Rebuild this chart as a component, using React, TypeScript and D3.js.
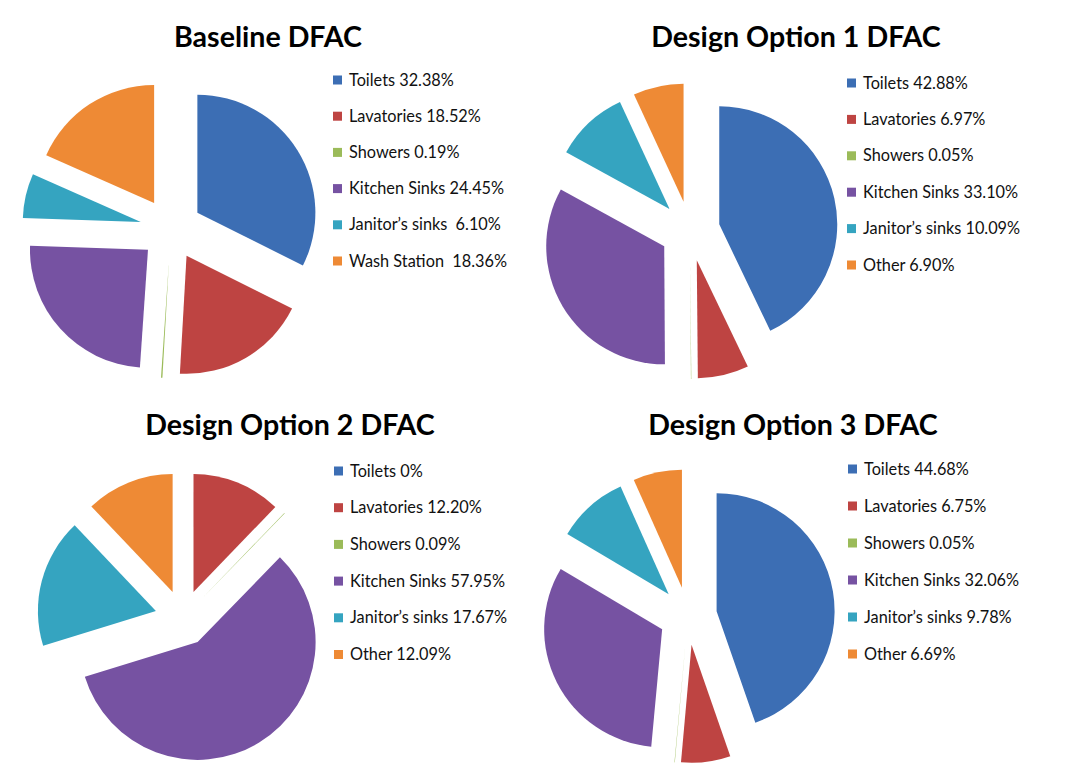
import React from "react";
import * as d3 from "d3";

const categories = ["Toilets", "Lavatories", "Showers", "Kitchen Sinks", "Janitor’s sinks"];
const baselineLastCategory = "Wash Station";
const otherCategory = "Other";

const baselineValues = [32.38, 18.52, 0.19, 24.45, 6.1, 18.36];
const option1Values = [42.88, 6.97, 0.05, 33.1, 10.09, 6.9];
const option2Values = [0, 12.2, 0.09, 57.95, 17.67, 12.09];
const option3Values = [44.68, 6.75, 0.05, 32.06, 9.78, 6.69];

const baselineLabels = ["32.38%", "18.52%", "0.19%", "24.45%", "6.10%", "18.36%"];
const option1Labels = ["42.88%", "6.97%", "0.05%", "33.10%", "10.09%", "6.90%"];
const option2Labels = ["0%", "12.20%", "0.09%", "57.95%", "17.67%", "12.09%"];
const option3Labels = ["44.68%", "6.75%", "0.05%", "32.06%", "9.78%", "6.69%"];

const titles = ["Baseline DFAC", "Design Option 1 DFAC", "Design Option 2 DFAC", "Design Option 3 DFAC"];

const colors = ["#3C6EB4", "#BE4442", "#9BBB59", "#7652A2", "#35A4C0", "#EE8A35"];

interface PanelCfg {
  title: string;
  values: number[];
  labels: string[];
  names: string[];
  seps: string[];
  cx: number;
  cy: number;
  titleX: number;
  titleY: number;
  legX: number;
  legY: number;
  legStep: number;
  explode: number;
}

const R = 118;

const panels: PanelCfg[] = [
  {
    title: titles[0], values: baselineValues, labels: baselineLabels,
    names: [...categories, baselineLastCategory], seps: [" ", " ", " ", " ", "  ", "  "],
    cx: 171, cy: 229, titleX: 268, titleY: 47, legX: 333, legY: 80, legStep: 36.2, explode: 31,
  },
  {
    title: titles[1], values: option1Values, labels: option1Labels,
    names: [...categories, otherCategory], seps: [" ", " ", " ", " ", " ", " "],
    cx: 690, cy: 231, titleX: 796, titleY: 47, legX: 847, legY: 83, legStep: 36.4, explode: 30,
  },
  {
    title: titles[2], values: option2Values, labels: option2Labels,
    names: [...categories, otherCategory], seps: [" ", " ", " ", " ", " ", " "],
    cx: 183, cy: 618, titleX: 290, titleY: 435, legX: 334, legY: 471, legStep: 36.7, explode: 28,
  },
  {
    title: titles[3], values: option3Values, labels: option3Labels,
    names: [...categories, otherCategory], seps: [" ", " ", " ", " ", " ", " "],
    cx: 688, cy: 616, titleX: 793, titleY: 435, legX: 848, legY: 469, legStep: 37, explode: 29,
  },
];

function Panel({ p }: { p: PanelCfg }) {
  const pie = d3.pie<number>().sort(null).value((d) => d);
  const arcs = pie(p.values);
  const arc = d3.arc<d3.PieArcDatum<number>>().innerRadius(0).outerRadius(R);
  return (
    <g>
      <text
        x={p.titleX}
        y={p.titleY}
        textAnchor="middle"
        fontFamily="Lato, 'Open Sans', sans-serif"
        fontWeight={700}
        fontSize={28.6}
        fill="#000"
      >
        {p.title}
      </text>
      <g transform={`translate(${p.cx},${p.cy})`}>
        {arcs.map((a, i) => {
          if (a.endAngle - a.startAngle <= 0) return null;
          const mid = (a.startAngle + a.endAngle) / 2;
          const dx = Math.sin(mid) * p.explode;
          const dy = -Math.cos(mid) * p.explode;
          return (
            <path key={i} d={arc(a) || ""} fill={colors[i]} transform={`translate(${dx},${dy})`} />
          );
        })}
      </g>
      {p.names.map((n, i) => {
        const y = p.legY + i * p.legStep;
        return (
          <g key={i}>
            <rect x={p.legX} y={y - 4.5} width={9} height={9} fill={colors[i]} />
            <text
              x={p.legX + 16}
              y={y + 5.5}
              fontFamily="Lato, 'Open Sans', sans-serif"
              fontSize={16.3}
              fill="#111"
              style={{ whiteSpace: "pre" }}
            >
              {n + p.seps[i] + p.labels[i]}
            </text>
          </g>
        );
      })}
    </g>
  );
}

export default function App() {
  return (
    <svg
      width={1068}
      height={782}
      style={{ position: "absolute", left: 0, top: 0, background: "#fff" }}
    >
      <rect width={1068} height={782} fill="#fff" />
      {panels.map((p, i) => (
        <Panel key={i} p={p} />
      ))}
    </svg>
  );
}
